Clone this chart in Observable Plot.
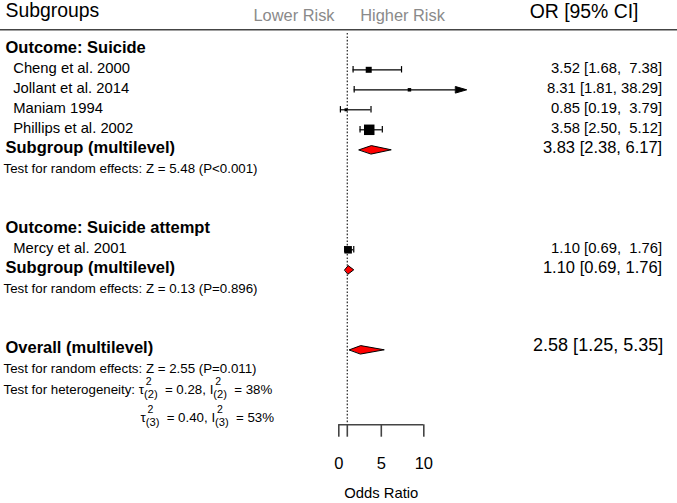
<!DOCTYPE html>
<html><head><meta charset="utf-8">
<script src="https://cdn.jsdelivr.net/npm/d3@7"></script>
<script src="https://cdn.jsdelivr.net/npm/@observablehq/plot@0.6"></script>
<style>
html,body{margin:0;padding:0;background:#fff;}
svg text{white-space:pre;}
</style></head><body><div id="chart"></div>
<script>
// ---- data ----
const studies = ["Cheng et al. 2000", "Jollant et al. 2014", "Maniam 1994", "Phillips et al. 2002", "Mercy et al. 2001"];
const studyRows = [2, 3, 4, 5, 11];
const studyOR = [3.52, 8.31, 0.85, 3.58, 1.10];
const studyLo = [1.68, 1.81, 0.19, 2.50, 0.69];
const studyHi = [7.38, 38.29, 3.79, 5.12, 1.76];
const studyWeight = [6, 3.5, 3, 10.5, 7.5]; // relative weight (drives square size)

const summaryLabels = ["Subgroup (multilevel)", "Subgroup (multilevel)", "Overall (multilevel)"];
const summaryRows = [6, 12, 16];
const summaryOR = [3.83, 1.10, 2.58];
const summaryLo = [2.38, 0.69, 1.25];
const summaryHi = [6.17, 1.76, 5.35];

const outcomeLabels = ["Outcome: Suicide", "Outcome: Suicide attempt"];
const outcomeRows = [1, 10];

const testLabels = ["Test for random effects: Z = 5.48 (P<0.001)",
                    "Test for random effects: Z = 0.13 (P=0.896)",
                    "Test for random effects: Z = 2.55 (P=0.011)"];
const testRows = [7, 13, 17];

const hetLevels = ["(2)", "(3)"];
const hetTau2 = ["0.28", "0.40"];
const hetI2 = ["38%", "53%"];
const hetRows = [18, 19.4];

const axisTicks = [0, 1, 5, 10];
const xClip = 15;       // upper limit of plotting region
const refOR = 1;        // line of no effect
const headerRow = 0;
const axisRow = 19.75;

// ---- derived tables ----
const studyData = studies.map((s, i) => ({label: s, row: studyRows[i], or: studyOR[i], lo: studyLo[i], hi: studyHi[i], w: studyWeight[i],
  ci: `${studyOR[i].toFixed(2)} [${studyLo[i].toFixed(2)}, ${studyHi[i].toFixed(2).padStart(5)}]`}));
const summaryData = summaryLabels.map((s, i) => ({label: s, row: summaryRows[i], or: summaryOR[i], lo: summaryLo[i], hi: summaryHi[i],
  ci: `${summaryOR[i].toFixed(2)} [${summaryLo[i].toFixed(2)}, ${summaryHi[i].toFixed(2)}]`}));
const outcomeData = outcomeLabels.map((s, i) => ({label: s, row: outcomeRows[i]}));
const testData = testLabels.map((s, i) => ({label: s, row: testRows[i]}));

const diamondH = 0.21, capH = 0.16;
const diamonds = summaryData.flatMap((d, i) => [
  {x: d.lo, y: d.row, z: i}, {x: d.or, y: d.row - diamondH, z: i},
  {x: d.hi, y: d.row, z: i}, {x: d.or, y: d.row + diamondH, z: i}]);
const clipped = studyData.filter(d => d.hi > xClip);
const arrows = clipped.flatMap((d, i) => [
  {x: xClip - 1.25, y: d.row - capH, z: i}, {x: xClip + 0.05, y: d.row, z: i}, {x: xClip - 1.25, y: d.row + capH, z: i}]);
const caps = studyData.flatMap(d => d.hi > xClip ? [{x: d.lo, row: d.row}] : [{x: d.lo, row: d.row}, {x: d.hi, row: d.row}]);

const hetText = [
  `Test for heterogeneity: τ[[2|${hetLevels[0]}]] = ${hetTau2[0]}, I[[2|${hetLevels[0]}]] = ${hetI2[0]}`,
  `τ[[2|${hetLevels[1]}]] = ${hetTau2[1]}, I[[2|${hetLevels[1]}]] = ${hetI2[1]}`
];

const FONT = "Liberation Sans, Arial, sans-serif";

const plot = Plot.plot({
  width: 677, height: 503,
  marginLeft: 0, marginRight: 0, marginTop: 0, marginBottom: 78.7,
  style: {fontFamily: FONT, background: "white", color: "black"},
  x: {domain: [0, 10], range: [338.3, 423.3]},
  y: {domain: [0, axisRow], range: [29.3, 424.3], axis: null},
  r: {type: "linear", domain: [0, 10], range: [0, 10 / Math.sqrt(Math.PI)]},
  marks: [
    // header
    Plot.ruleY([headerRow], {stroke: "#444", strokeWidth: 1.5}),
    Plot.text(["Subgroups"], {y: () => -1, dy: 1.2, frameAnchor: "left", dx: 5, textAnchor: "start", fontSize: 19.4, fill: "black"}),
    Plot.text(["Lower Risk"], {x: () => -5.27, y: () => -1, dy: 5.5, fontSize: 16.4, fill: "#8a8a8a"}),
    Plot.text(["Higher Risk"], {x: () => 7.5, y: () => -1, dy: 5.5, fontSize: 16.4, fill: "#8a8a8a"}),
    Plot.text(["OR [95% CI]"], {y: () => -1, dy: 1.8, frameAnchor: "right", dx: -39, textAnchor: "end", fontSize: 19.4, fill: "black"}),
    // reference line
    Plot.ruleX([refOR], {y1: 0.185, y2: axisRow, stroke: "#333", strokeWidth: 1.3, strokeDasharray: "1.6,1.8"}),
    // axis
    Plot.ruleY([axisRow], {x1: axisTicks[0], x2: axisTicks[axisTicks.length - 1], stroke: "#444", strokeWidth: 1.6}),
    Plot.axisX({ticks: axisTicks, tickFormat: d => d === 1 ? "" : d, tickSize: 12.4, tickPadding: 20.2, fontSize: 16.5, stroke: "#444", strokeWidth: 1.6, label: null, fill: "black"}),
    Plot.text(["Odds Ratio"], {x: () => 5, frameAnchor: "bottom", dy: 73.4, fontSize: 14.8, fill: "black"}),
    // study CIs
    Plot.ruleY(studyData, {y: "row", x1: "lo", x2: d => Math.min(d.hi, d.hi > xClip ? xClip - 1.2 : d.hi), stroke: "black", strokeWidth: 1.2}),
    Plot.ruleX(caps, {x: "x", y1: d => d.row - capH, y2: d => d.row + capH, stroke: "black", strokeWidth: 1.2}),
    Plot.line(arrows, {x: "x", y: "y", z: "z", curve: "linear-closed", fill: "black", stroke: "black", strokeWidth: 1}),
    Plot.dot(studyData, {x: "or", y: "row", r: "w", symbol: "square", fill: "black", stroke: null}),
    // diamonds
    Plot.line(diamonds, {x: "x", y: "y", z: "z", curve: "linear-closed", fill: "#ff0000", stroke: "black", strokeWidth: 1}),
    // left labels
    Plot.text(outcomeData, {y: "row", text: "label", frameAnchor: "left", dx: 5, dy: -1.8, textAnchor: "start", fontSize: 16.5, fontWeight: "bold", fill: "black"}),
    Plot.text(studyData, {y: "row", text: "label", frameAnchor: "left", dx: 12.7, dy: -2, textAnchor: "start", fontSize: 14.8, fill: "black"}),
    Plot.text(summaryData, {y: "row", text: "label", frameAnchor: "left", dx: 5, dy: -2, textAnchor: "start", fontSize: 16.5, fontWeight: "bold", fill: "black"}),
    Plot.text(testData, {y: "row", text: "label", frameAnchor: "left", dx: 3, dy: -1.2, textAnchor: "start", fontSize: 13.3, fill: "black"}),
    Plot.text([hetText[0]], {y: () => hetRows[0], text: d => d, frameAnchor: "left", dx: 3, textAnchor: "start", fontSize: 13.3, fill: "black"}),
    Plot.text([hetText[1]], {y: () => hetRows[1], text: d => d, frameAnchor: "left", dx: 140, textAnchor: "start", fontSize: 13.3, fill: "black"}),
    // right column
    Plot.text(studyData, {y: "row", text: "ci", frameAnchor: "right", dx: -15.3, dy: -1.2, textAnchor: "end", fontSize: 14.8, fill: "black"}),
    Plot.text(summaryData.filter(d => d.row !== 16), {y: "row", text: "ci", frameAnchor: "right", dx: -15.3, dy: -2, textAnchor: "end", fontSize: 16.5, fill: "black"}),
    Plot.text(summaryData.filter(d => d.row === 16), {y: "row", text: "ci", frameAnchor: "right", dx: -14.3, dy: -5, textAnchor: "end", fontSize: 18, fill: "black"})
  ]
});

document.getElementById("chart").append(plot);

// render τ²₍₂₎-style stacked super/subscripts as real tspans
const SUP_RISE = 9.5, SUB_DROP = 3.5, SUP_SIZE = 10.5, SUB_SIZE = 11.2, SUB_GAP = 3.5;
d3.select(plot).selectAll("text").each(function () {
  const t = this.textContent;
  if (!t.includes("[[")) return;
  const parts = t.split(/\[\[(.*?)\|(.*?)\]\]/);
  const sel = d3.select(this);
  sel.text(null);
  let back = 0;
  for (let i = 0; i < parts.length; i += 3) {
    const n = sel.append("tspan").text(parts[i]);
    if (back) n.attr("dy", back).attr("dx", SUB_GAP);
    if (i + 1 < parts.length) {
      const sup = sel.append("tspan").attr("dx", 1.8).attr("dy", -SUP_RISE).attr("font-size", SUP_SIZE).text(parts[i + 1]);
      const w = sup.node().getComputedTextLength();
      sel.append("tspan").attr("dx", -(w + 1.8)).attr("dy", SUP_RISE + SUB_DROP).attr("font-size", SUB_SIZE).text(parts[i + 2]);
      back = -SUB_DROP;
    }
  }
});
</script></body></html>
